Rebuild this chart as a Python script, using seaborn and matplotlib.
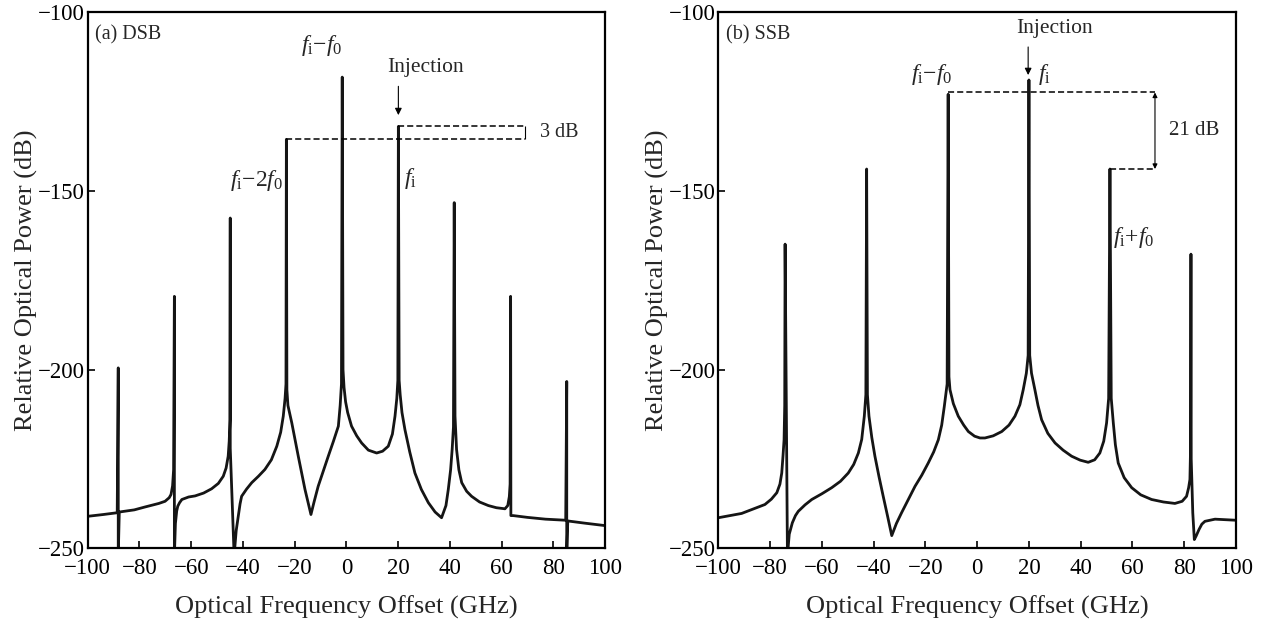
"""
Injection-locked comb spectra: (a) DSB and (b) SSB modulation.
"""
import matplotlib
matplotlib.use('Agg')
import matplotlib.pyplot as plt
import seaborn as sns

# ---- data (GHz, dB) ----
# each spike is given as points at the same frequency (foot, top, foot)
dsb_freq = [-100, -94, -88.6, -88.2, -88.2, -87.8, -82, -77.9, -72.5, -70.1, -68.5,
            -67.8, -67.2, -66.8, -66.5, -66.5, -66.1, -65.6, -65.2, -64.5, -63.6,
            -61.0, -58.5, -55.2, -52.1, -49.5, -47.6, -46.5, -45.7, -45.3, -45.0,
            -44.9, -44.9, -43.4, -42.6, -41.8, -41.1, -40.5, -38.6, -36.6, -34.0,
            -31.5, -29.0, -26.9, -25.4, -24.4, -23.7, -23.35, -23.2, -23.0, -22.6,
            -21.1, -18.6, -16.0, -13.7, -12.5, -10.9, -7.0, -5.0, -3.1, -2.4,
            -1.9, -1.6, -1.3, -0.9, -0.3, 0.5, 2.0, 4.0, 5.9, 8.5, 11.7, 14.0,
            16.2, 17.8, 18.8, 19.5, 19.9, 20.1, 20.4, 20.8, 21.5, 22.65, 24.5,
            26.5, 29.0, 31.7, 34.3, 36.8, 38.5, 39.4, 40.3, 40.9, 41.4, 41.7,
            42.0, 42.6, 43.5, 44.6, 46.5, 48.4, 51.5, 54.9, 58.0, 61.3, 62.4,
            63.0, 63.3, 63.5, 63.6, 64.5, 70.0, 77.0, 84.8, 85.2, 85.2, 85.6,
            92.0, 100]
dsb_power = [-241.0, -240.5, -240.0, -199.5, -252, -239.8, -239.2, -238.4, -237.4, -236.8, -235.8,
             -234.9, -232.5, -228, -179.5, -252, -243, -239.5, -238.2, -237.2, -236.3,
             -235.6, -235.3, -234.5, -233.3, -231.8, -229.8, -227.5, -224.2, -220, -214,
             -157.6, -222, -252, -245, -241.0, -237.5, -235.4, -233.4, -231.6, -229.8,
             -227.9, -225.2, -221.4, -217.5, -213.0, -208, -204, -135.6, -205.6, -210,
             -214.9, -224.2, -233.5, -240.5, -237, -232.6, -224.2, -220, -215.8, -210,
             -204, -118.2, -200, -205, -209, -212, -215.8, -218.5, -220.5, -222.5, -223.3, -222.8,
             -221.4, -218, -213.0, -208, -203, -132.0, -203, -207, -212, -216.8, -223,
             -228.9, -233.5, -237.2, -239.8, -241.4, -238, -233.5, -228, -222.3, -216, -153.3,
             -213, -222.3, -228, -231.6, -234, -235.4, -237, -238.0, -238.6, -238.9, -238,
             -235.5, -232, -179.5, -240.8, -240.8, -241.3, -241.8, -242.1, -203.3, -252, -242.3,
             -242.9, -243.6]

ssb_freq = [-100, -91.0, -82.0, -79.5, -77.4, -76.2, -75.5, -75.0, -74.6, -74.35,
            -74.2, -73.3, -72.6, -71.4, -70.2, -69.1, -66.5, -63.9, -60.0, -56.2,
            -52.8, -49.8, -47.7, -45.9, -44.6, -43.6, -43.0, -42.7, -42.4, -41.8,
            -40.7, -39.5, -37.9, -36.3, -34.6, -33.0, -31.2, -29.2, -26.6, -24.0,
            -21.4, -18.9, -16.8, -15.0, -13.7, -12.7, -11.6, -11.2, -10.9, -10.5,
            -9.2, -7.3, -5.2, -3.4, -1.0, 1.1, 3.0, 6.2, 9.5, 12.3, 14.6, 16.5,
            17.8, 19.0, 19.7, 20.0, 20.3, 21.0, 22.3, 23.5, 24.9, 27.3, 30.1,
            33.2, 36.5, 39.8, 42.9, 45.4, 47.4, 48.9, 50.0, 50.8, 51.3, 51.8,
            52.6, 53.4, 54.5, 56.8, 59.7, 63.2, 67.4, 72.0, 76.4, 79.2, 80.9,
            81.7, 82.2, 82.45, 82.6, 82.7, 83.3, 83.9, 84.6, 85.7, 86.8, 88.0,
            91.9, 100]
ssb_power = [-241.4, -240.2, -237.7, -236.2, -234.4, -232, -228.9, -224, -219.6, -210,
             -164.9, -252, -246, -242.8, -240.8, -239.6, -237.8, -236.3, -234.7, -233.0,
             -231.2, -228.9, -226.5, -223.3, -219.5, -213.0, -207, -143.9, -207, -213.0,
             -219, -224.2, -230, -235.4, -241, -246.4, -243, -240.0, -236.3, -232.6,
             -229.5, -226.1, -223, -219.6, -215.5, -210.3, -204, -123.0, -202, -205.6,
             -209.5, -213.0, -215.5, -217.3, -218.6, -219.1, -219.1, -218.5, -217.3, -215.5, -213.0, -209.8,
             -205.6, -201, -196, -119.0, -196, -201, -205.6, -210, -214.0, -217.8, -220.5,
             -222.5, -224.2, -225.3, -225.9, -225.2, -223.3, -220, -214.9, -208, -143.9, -208,
             -214.9, -221, -226.1, -230.2, -233.0, -235, -236.3, -237, -237.4, -236.8, -235.4,
             -233, -230.7, -222, -167.7, -225, -240, -247.5, -246.5, -244.7, -243.2, -242.4,
             -241.8, -242.1]

# reference levels for the dashed guides (dB)
dsb_levels = [-135.6, -132.0]      # f_i-2f_0 and f_i
ssb_levels = [-122.5, -143.9]      # f_i-f_0 and f_i+f_0

XTICKS = [-100, -80, -60, -40, -20, 0, 20, 40, 60, 80, 100]
YTICKS = [-250, -200, -150, -100]

# ---- style ----
sns.set_style('ticks', {'xtick.direction': 'in', 'ytick.direction': 'in'})
plt.rcParams['font.family'] = ['Liberation Serif', 'DejaVu Serif']
plt.rcParams['mathtext.fontset'] = 'custom'
plt.rcParams['mathtext.rm'] = 'Liberation Serif'
plt.rcParams['mathtext.it'] = 'Liberation Serif:italic'
plt.rcParams['axes.unicode_minus'] = True

fig = plt.figure(figsize=(12.66, 6.19), dpi=100)
ax1 = fig.add_axes([0.0693, 0.1139, 0.4086, 0.8667])
ax2 = fig.add_axes([0.5674, 0.1139, 0.4089, 0.8667])

FI = r'$f_\mathrm{i}$'


def style_axes(ax):
    ax.set_xlim(-100, 100)
    ax.set_ylim(-250, -100)
    ax.set_xticks(XTICKS)
    ax.set_yticks(YTICKS)
    ax.tick_params(axis='both', labelsize=16.5, length=5, width=1.2, direction='in',
                   top=False, right=False, colors='black')
    ax.tick_params(axis='y', pad=2)
    ax.tick_params(axis='x', pad=7)
    for s in ax.spines.values():
        s.set_linewidth(1.6)
        s.set_color('black')
    ax.set_xlabel('Optical Frequency Offset (GHz)', fontsize=19, labelpad=12)
    ax.set_ylabel('Relative Optical Power (dB)', fontsize=19, labelpad=0)


def trace(ax, freq, power):
    sns.lineplot(x=freq, y=power, sort=False, estimator=None, ax=ax,
                 color='#151515', linewidth=2.0)


dash = dict(color='black', linewidth=1.1, linestyle=(0, (4, 2)))

# ---- (a) DSB ----
trace(ax1, dsb_freq, dsb_power)
style_axes(ax1)
ax1.text(0.015, 0.975, '(a) DSB', transform=ax1.transAxes, fontsize=14.5, va='top', ha='left')
ax1.hlines(dsb_levels[0], -23.2, 69.0, **dash)
ax1.hlines(dsb_levels[1], 20.1, 69.0, **dash)
ax1.vlines(69.0, dsb_levels[0], dsb_levels[1], color='black', linewidth=0.8)
ax1.text(75, (dsb_levels[0] + dsb_levels[1]) / 2, '3 dB', fontsize=14.5, va='center', ha='left')
ax1.annotate('', xy=(20.1, -129.6), xytext=(20.1, -120.0),
             arrowprops=dict(arrowstyle='-|>', color='black', lw=0.8, mutation_scale=10))
ax1.text(30.5, -115.5, 'Injection', fontsize=15.5, ha='center', va='center')
ax1.text(-9.5, -109.5, FI + r'$-$' + r'$f_0$', fontsize=17, ha='center', va='center')
ax1.text(-24.6, -147, FI + r'$-2f_0$', fontsize=17, ha='right', va='center')
ax1.text(22.3, -146.5, FI, fontsize=17, ha='left', va='center')

# ---- (b) SSB ----
trace(ax2, ssb_freq, ssb_power)
style_axes(ax2)
ax2.text(0.015, 0.975, '(b) SSB', transform=ax2.transAxes, fontsize=14.5, va='top', ha='left')
ax2.hlines(ssb_levels[0], -11.2, 68.7, **dash)
ax2.hlines(ssb_levels[1], 51.3, 68.7, **dash)
ax2.annotate('', xy=(68.7, ssb_levels[1]), xytext=(68.7, ssb_levels[0]),
             arrowprops=dict(arrowstyle='<|-|>', color='black', lw=0.8, mutation_scale=7,
                             shrinkA=0, shrinkB=0))
ax2.text(74, (ssb_levels[0] + ssb_levels[1]) / 2, '21 dB', fontsize=15, va='center', ha='left')
ax2.annotate('', xy=(19.7, -118.4), xytext=(19.7, -109.0),
             arrowprops=dict(arrowstyle='-|>', color='black', lw=0.8, mutation_scale=10))
ax2.text(30.0, -104.6, 'Injection', fontsize=15.5, ha='center', va='center')
ax2.text(23.5, -117.6, FI, fontsize=17, ha='left', va='center')
ax2.text(-17.6, -117.6, FI + r'$-$' + r'$f_0$', fontsize=17, ha='center', va='center')
ax2.text(52.5, -163.1, FI + r'$+$' + r'$f_0$', fontsize=17, ha='left', va='center')

fig.savefig('out.png', dpi=100)
plt.close()
